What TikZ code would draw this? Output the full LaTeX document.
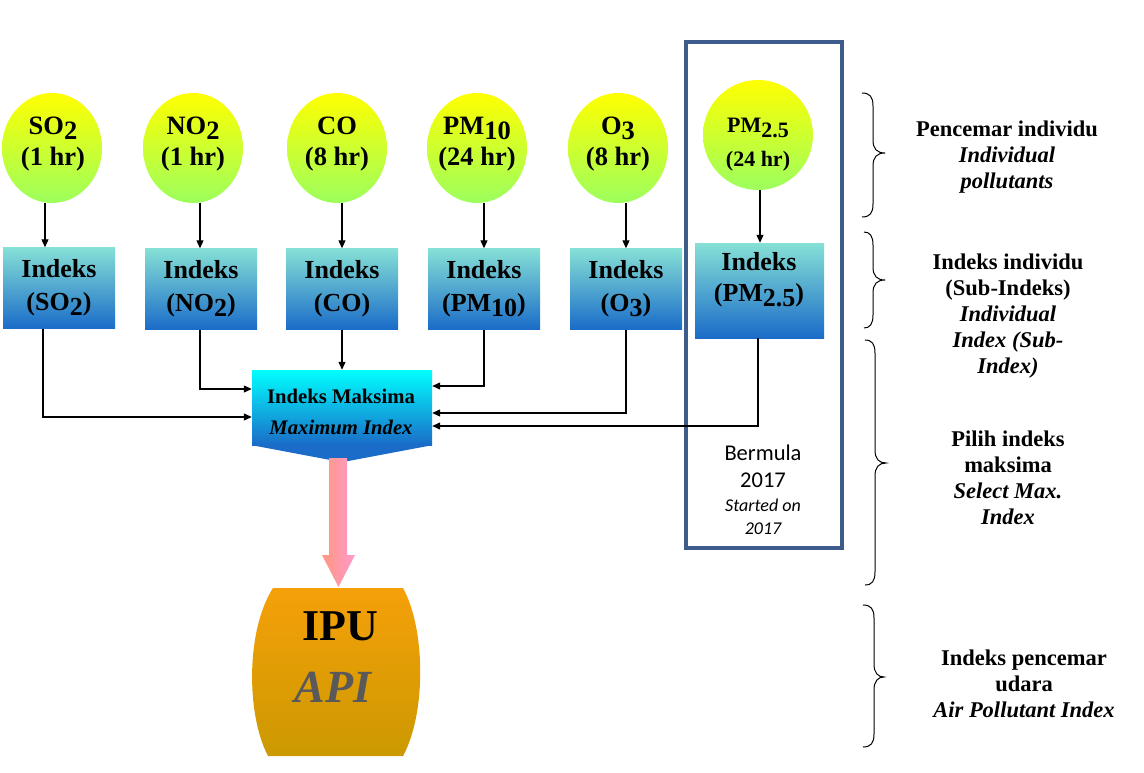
\documentclass[tikz,border=0pt]{standalone}
\usepackage{fontspec}
\setmainfont{Liberation Serif}
\newfontfamily\calfont{Carlito}
\usetikzlibrary{arrows.meta,shapes.geometric}
\definecolor{yel}{HTML}{FFFF00}
\definecolor{grn}{HTML}{9CFF5E}
\definecolor{tealtop}{HTML}{86E0D6}
\definecolor{bluebot}{HTML}{1A6CC8}
\definecolor{cyantop}{HTML}{00FFFF}
\definecolor{pinkL}{HTML}{FF9980}
\definecolor{pinkR}{HTML}{FF99CC}
\definecolor{orTop}{HTML}{F5A00A}
\definecolor{orBot}{HTML}{CC9900}
\definecolor{frameblue}{HTML}{3E5C8B}
\definecolor{apigrey}{HTML}{595959}
\newcommand\lo[1]{\raisebox{-0.2em}{#1}}
\newcommand\mybrace[6]{\draw[line width=1pt] (#1,#4) .. controls ({#2-3},#4) and (#2,{#4+4}) .. (#2,{#4+13}) -- (#2,{#5-13}) .. controls (#2,{#5-4}) and ({#2+4},#5) .. (#3,#5) .. controls ({#2+4},#5) and (#2,{#5+4}) .. (#2,{#5+13}) -- (#2,{#6-13}) .. controls (#2,{#6-4}) and ({#2-3},#6) .. (#1,#6);}
\tikzset{
  pol/.style={ellipse, minimum width=100pt, minimum height=110pt, inner sep=0pt,
    top color=yel, bottom color=grn},
  ptxt/.style={align=center, inner sep=0pt, font=\bfseries\fontsize{26.5}{31}\selectfont},
  idx/.style={rectangle, minimum width=112pt, minimum height=81pt, inner sep=0pt,
    top color=tealtop, bottom color=bluebot, align=center,
    font=\bfseries\fontsize{26}{33}\selectfont},
  arr/.style={-{Triangle[length=8pt,width=7pt]}, line width=1.1pt},
  rtxt/.style={align=center, font=\bfseries\fontsize{22.5}{26}\selectfont, inner sep=0pt},
}
\begin{document}
\begin{tikzpicture}[x=1pt,y=-1pt]
\useasboundingbox (0,0) rectangle (1144,773);
% frame
\draw[frameblue, line width=4pt] (686,42) rectangle (842,548);
% pollutant circles
\node[pol] (c1) at (52,148) {};
\node[pol] (c2) at (193,148) {};
\node[pol] (c3) at (337,148) {};
\node[pol] (c4) at (477,148) {};
\node[pol] (c5) at (618,148) {};
\node[pol, minimum width=110pt] (c6) at (758,135) {};
\node[ptxt] (c1t) at (53,144) {SO\lo{2}\\(1 hr)};
\node[ptxt] (c2t) at (193,144) {NO\lo{2}\\(1 hr)};
\node[ptxt] (c3t) at (337,144) {CO\\(8 hr)};
\node[ptxt] (c4t) at (477,144) {PM\lo{10}\\(24 hr)};
\node[ptxt] (c5t) at (618,144) {O\lo{3}\\(8 hr)};
\node[ptxt, font=\bfseries\fontsize{22}{34}\selectfont] (c6t) at (758,145) {PM\lo{2.5}\\(24 hr)};
% index boxes
\node[idx] (b1) at (59,288) {Indeks\\(SO\lo{2})};
\node[idx] (b2) at (201,289) {Indeks\\(NO\lo{2})};
\node[idx] (b3) at (342,289) {Indeks\\(CO)};
\node[idx] (b4) at (484,289) {Indeks\\(PM\lo{10})};
\node[idx] (b5) at (626,289) {Indeks\\(O\lo{3})};
\node[idx, minimum width=129pt, minimum height=95pt] (b6) at (759.5,290.5) {};
\node[align=center, inner sep=0pt, font=\bfseries\fontsize{26}{31}\selectfont] (b6t) at (759,280) {Indeks\\(PM\lo{2.5})};
% maximum index
\node[rectangle, minimum width=180pt, minimum height=75pt, inner sep=0pt,
  top color=cyantop, bottom color=bluebot] (max) at (342,407.5) {};
\fill[bluebot] (max.south west) -- (max.south east) -- ([yshift=-17pt]max.south) -- cycle;
\node[align=center, inner sep=0pt, font=\bfseries\fontsize{20.7}{31}\selectfont] (maxt) at (341,412)
  {Indeks Maksima\\\textit{Maximum Index}};
% arrows circles -> boxes
\coordinate (v1) at (45,0); \coordinate (v2) at (200,0); \coordinate (v3) at (342,0);
\coordinate (v4) at (484,0); \coordinate (v5) at (626,0); \coordinate (v6) at (760,0);
\draw[arr] (v1 |- c1.south) -- (v1 |- b1.north);
\draw[arr] (v2 |- c2.south) -- (v2 |- b2.north);
\draw[arr] (v3 |- c3.south) -- (v3 |- b3.north);
\draw[arr] (v4 |- c4.south) -- (v4 |- b4.north);
\draw[arr] (v5 |- c5.south) -- (v5 |- b5.north);
\draw[arr] (v6 |- c6.south) -- (v6 |- b6.north);
% arrows boxes -> max
\coordinate (w1) at (43,0); \coordinate (w6) at (758,0);
\draw[arr] (w1 |- b1.south) |- ([yshift=-9.5pt]max.west);
\draw[arr] (v2 |- b2.south) |- ([yshift=18.5pt]max.west);
\draw[arr] (v3 |- b3.south) -- (v3 |- max.north);
\draw[arr] (v4 |- b4.south) |- ([yshift=21.5pt]max.east);
\draw[arr] (v5 |- b5.south) |- ([yshift=-5.5pt]max.east);
\draw[arr] (w6 |- b6.south) |- ([yshift=-18.5pt]max.east);
% pink arrow
\shade[left color=pinkL, right color=pinkR] (329,458) -- (347,458) -- (347,555) -- (355,555) -- (338.5,587) -- (322,555) -- (329,555) -- cycle;
% IPU barrel
\shade[top color=orTop, bottom color=orBot] (273,588) -- (403,588) .. controls (426,630) and (426,714) .. (403,756) -- (268,756) .. controls (246,714) and (246,630) .. (273,588) -- cycle;
\node[inner sep=0pt, font=\bfseries\fontsize{44}{50}\selectfont] (ipu) at (340,626) {IPU};
\node[inner sep=0pt, text=apigrey, font=\bfseries\itshape\fontsize{46}{50}\selectfont] (api) at (333,687) {API};
% Bermula text
\node[align=center, inner sep=0pt, font=\calfont\fontsize{22.5}{27}\selectfont] (bm1) at (763,466) {Bermula\\2017};
\node[align=center, inner sep=0pt, font=\calfont\itshape\fontsize{18}{23}\selectfont] (bm2) at (763,517) {Started on\\2017};
% braces
\mybrace{862}{873}{885}{93}{153}{217}
\mybrace{864}{873}{885}{232}{280}{328}
\mybrace{865}{875}{886}{340}{463}{585}
\mybrace{863}{874}{884}{605}{677}{747}
% right texts
\node[rtxt] (t1) at (1007,157) {Pencemar individu\\\textit{Individual}\\\textit{pollutants}};
\node[rtxt] (t2) at (1008,316) {Indeks individu\\(Sub-Indeks)\\\textit{Individual}\\\textit{Index (Sub-}\\\textit{Index)}};
\node[rtxt] (t3) at (1008,478) {Pilih indeks\\maksima\\\textit{Select Max.}\\\textit{Index}};
\node[rtxt] (t4) at (1024,684) {Indeks pencemar\\udara\\\textit{Air Pollutant Index}};
\end{tikzpicture}
\end{document}
